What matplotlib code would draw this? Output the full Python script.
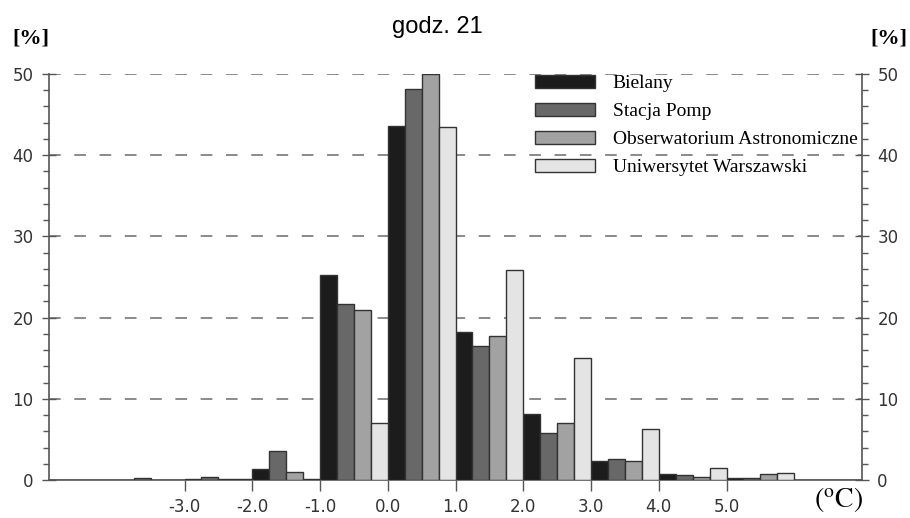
import numpy as np
import matplotlib.pyplot as plt
from matplotlib.ticker import MultipleLocator

# left edges of the 1.0 degC classes and frequency [%] per station
bins = [-5, -4, -3, -2, -1, 0, 1, 2, 3, 4, 5, 6]
bielany = [0, 0, 0.1, 1.3, 25.3, 43.6, 18.2, 8.1, 2.3, 0.7, 0.3, 0]
stacja = [0, 0.2, 0.4, 3.6, 21.7, 48.2, 16.5, 5.8, 2.6, 0.6, 0.3, 0]
obserwatorium = [0, 0, 0.1, 1.0, 20.9, 50.0, 17.7, 7.0, 2.4, 0.4, 0.7, 0]
uniwersytet = [0, 0, 0.1, 0.1, 7.0, 43.5, 25.9, 15.0, 6.3, 1.5, 0.9, 0]

series = [bielany, stacja, obserwatorium, uniwersytet]
names = ['Bielany', 'Stacja Pomp', 'Obserwatorium Astronomiczne', 'Uniwersytet Warszawski']
colors = ['#1c1c1c', '#686868', '#a2a2a2', '#e4e4e4']

xticks = [-3, -2, -1, 0, 1, 2, 3, 4, 5]

plt.rcParams['mathtext.fontset'] = 'stix'

fig = plt.figure(figsize=(9.10, 5.18), dpi=100)
ax = fig.add_axes([49 / 910, 1 - 480 / 518, (862 - 49) / 910, (480 - 74) / 518])

w = 0.25
left = np.array(bins, dtype=float)
for i, (vals, name, c) in enumerate(zip(series, names, colors)):
    ax.bar(left + i * w, vals, width=w, align='edge', color=c,
           edgecolor='#333333', linewidth=1.0, label=name, zorder=3)

ax.set_xlim(-5, 7)
ax.set_ylim(0, 50)

# dashed horizontal grid
for y in range(10, 51, 10):
    ax.axhline(y, color='#8a8a8a', lw=1.4, dashes=(6, 7), zorder=1)

ax.set_xticks(xticks)
ax.set_xticklabels([f'{v:.1f}' for v in xticks])
ax.yaxis.set_major_locator(MultipleLocator(10))
ax.yaxis.set_minor_locator(MultipleLocator(2))
ax.tick_params(axis='x', direction='out', length=8, width=1, color='#555555',
               labelsize=12, labelcolor='#333333', pad=5)
ax.tick_params(axis='y', which='major', direction='inout', length=10, width=1,
               color='#555555', labelsize=12, labelcolor='#333333', pad=6,
               right=True, labelright=True)
ax.tick_params(axis='y', which='minor', direction='out', length=4, width=1,
               color='#555555', right=True)

ax.spines['top'].set_visible(False)
for s in ['left', 'right', 'bottom']:
    ax.spines[s].set_color('#555555')
    ax.spines[s].set_linewidth(1.2)

fig.text(437 / 910, 1 - 27 / 518, 'godz. 21', ha='center', va='center',
         fontsize=17, family='Liberation Sans')
fig.text(31 / 910, 1 - 39 / 518, '[%]', ha='center', va='center',
         fontsize=16, family='Liberation Serif', fontweight='bold')
fig.text(889 / 910, 1 - 39 / 518, '[%]', ha='center', va='center',
         fontsize=16, family='Liberation Serif', fontweight='bold')
fig.text(838 / 910, 1 - 499 / 518, r'$(^{\mathrm{o}}\mathrm{C})$', ha='center', va='center',
         fontsize=20)

ax.legend(loc='upper left', bbox_to_anchor=(535 / 910, 1 - 75 / 518),
          bbox_transform=fig.transFigure, frameon=False, borderpad=0,
          borderaxespad=0, handlelength=3.1, handleheight=0.65,
          handletextpad=0.9, labelspacing=0.55,
          prop={'family': 'Liberation Serif', 'size': 14})

fig.savefig('out.png', dpi=100)
